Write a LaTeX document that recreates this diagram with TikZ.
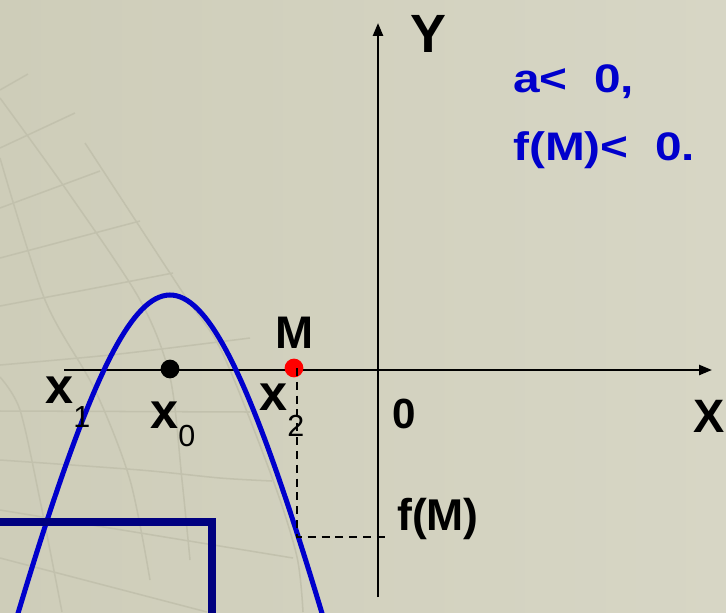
\documentclass[tikz,border=0pt]{standalone}
\usepackage{fontspec}
\setmainfont{Liberation Sans}
\newfontfamily\condfont[FakeStretch=1.2]{Liberation Sans}
\usepackage{xcolor}
\usepackage{tikz}
\usetikzlibrary{arrows.meta}
\definecolor{bgdark}{RGB}{206,205,185}
\definecolor{bglight}{RGB}{215,214,197}
\definecolor{gridtone}{RGB}{194,193,173}
\definecolor{curveblue}{RGB}{0,0,204}
\definecolor{boxnavy}{RGB}{0,0,128}
\newcommand{\rootlbl}[2]{x\raisebox{-#2}{\fontsize{26}{26}\selectfont\mdseries #1}}

\begin{document}
\begin{tikzpicture}[x=0.3mm,y=-0.3mm,
  axis/.style={line width=2pt,-{Triangle[length=11pt,width=8.5pt]}},
  guide/.style={line width=2pt,dash pattern=on 6.8pt off 5pt},
  gridln/.style={gridtone,line width=1.3pt},
  rootdot/.style={circle,inner sep=0,minimum size=16pt},
  bigbold/.style={inner sep=0,font=\fontsize{#1}{#1}\selectfont\bfseries}]
\useasboundingbox (0,0) rectangle (726,612);
\shade[left color=bgdark,right color=bglight] (0,0) rectangle (726,612);
% background grid
\draw[gridln] (0,90) -- (28,74);
\draw[gridln] (0,148) -- (75,113);
\draw[gridln] (0,208) -- (100,171);
\draw[gridln] (0,258) -- (140,221);
\draw[gridln] plot[smooth] coordinates {(0,306) (90,289) (173,273)};
\draw[gridln] plot[smooth] coordinates {(0,365) (110,355) (210,343) (250,338)};
\draw[gridln] (0,411) -- (250,412);
\draw[gridln] plot[smooth] coordinates {(0,460) (140,470) (220,478) (272,481)};
\draw[gridln] (0,510) -- (293,558);
\draw[gridln] (0,558) -- (207,612);
\draw[gridln] plot[smooth] coordinates {(0,98) (70,195) (140,300) (170,377) (182,480) (190,560)};
\draw[gridln] plot[smooth] coordinates {(0,158) (45,300) (95,390) (130,480) (150,580)};
\draw[gridln] plot[smooth] coordinates {(85,143) (183,293) (222,352) (273,480) (297,557) (303,612)};
\draw[gridln] plot[smooth] coordinates {(0,377) (20,410) (40,500) (62,612)};
% axes
\coordinate (xtail) at (64,370);
\coordinate (xhead) at (712,370);
\coordinate (ytail) at (378,597);
\coordinate (yhead) at (378,23);
\draw[axis] (xtail) -- (xhead);
\draw[axis] (ytail) -- (yhead);
\node[bigbold=46,anchor=base] (ylbl) at (428,52) {Y};
\node[bigbold=40,anchor=base] (xlbl) at (709,432) {X};
\node[bigbold=36,anchor=base] (origin) at (404,428) {0};
% parabola
\draw[curveblue,line width=4.3pt] plot[domain=-158:154,samples=90] ({170+\x},{295+41*(sqrt(121+(\x/10)*(\x/10))-11)});
% frame corner
\draw[boxnavy,line width=6.5pt] (-10,522) -- (212,522) -- (212,630);
% roots and point M
\node[rootdot,fill=black] (x0dot) at (170,369) {};
\node[rootdot,fill=red] (mdot) at (294,368) {};
\node[bigbold=43,anchor=base west] (x1lbl) at (45,403) {\rootlbl{1}{21pt}};
\node[bigbold=43,anchor=base west] (x0lbl) at (150,428) {\rootlbl{0}{16pt}};
\node[bigbold=43,anchor=base west] (x2lbl) at (259,410) {\rootlbl{2}{23pt}};
\node[bigbold=39,anchor=base] (mlbl) at (295,348) {M};
\coordinate (mfoot) at (297,537);
\coordinate (fmark) at (387,537);
\draw[guide] (mfoot |- mdot) -- (mfoot) -- (fmark);
\node[bigbold=38,anchor=base west] (fmlbl) at (397,530) {f(M)};
% conditions
\node[inner sep=0,anchor=base west,align=left,text=curveblue,font=\condfont\fontsize{34}{58}\selectfont\bfseries] (cond) at (513,160) {a<\ \ 0,\\f(M)<\ \ 0.};
\end{tikzpicture}
\end{document}
